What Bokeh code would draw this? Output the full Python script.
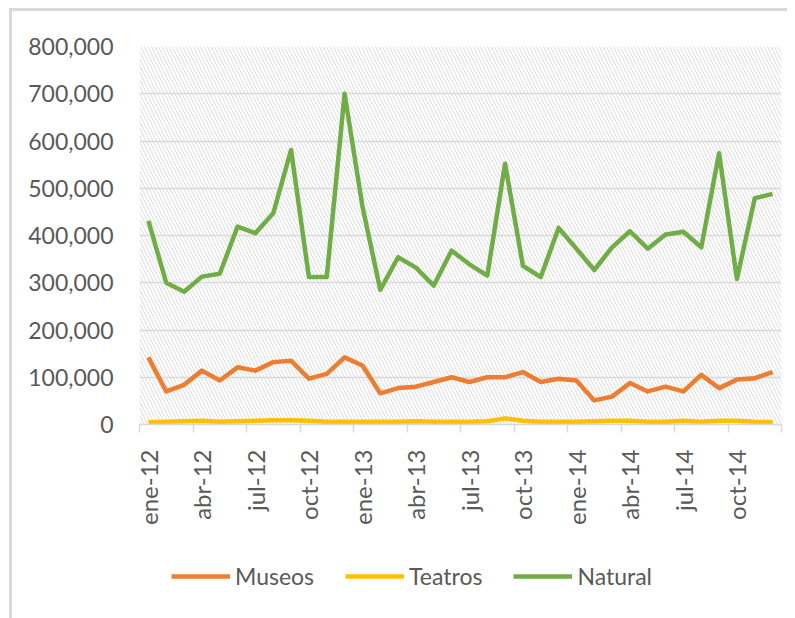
from math import pi
from bokeh.plotting import figure
from bokeh.layouts import column
from bokeh.models import (Range1d, FixedTicker, NumeralTickFormatter, BoxAnnotation,
                          Legend, LegendItem, ColumnDataSource)
from bokeh.embed import file_html
from bokeh.resources import INLINE

months = ["ene", "feb", "mar", "abr", "may", "jun", "jul", "ago", "sep", "oct", "nov", "dic"]
years = ["12", "13", "14"]
month_labels = [f"{m}-{y}" for y in years for m in months]

museos = [142000, 70000, 84000, 114000, 93000, 121000, 114000, 132000, 135000, 97000, 107000, 142000,
          125000, 66000, 77000, 80000, 90000, 100000, 90000, 100000, 100000, 111000, 90000, 97000,
          93000, 51000, 59000, 88000, 70000, 80000, 70000, 105000, 77000, 95000, 98000, 111000]
teatros = [5000, 6000, 7000, 8000, 6000, 7000, 8000, 9000, 9000, 8000, 6000, 6000,
           6000, 6000, 6000, 7000, 6000, 6000, 6000, 7000, 13000, 8000, 6000, 6000,
           6000, 7000, 8000, 8000, 6000, 6000, 8000, 6000, 8000, 8000, 6000, 5000]
natural = [431000, 300000, 281000, 313000, 319000, 419000, 405000, 447000, 581000, 312000, 312000, 700000,
           462000, 285000, 354000, 332000, 294000, 368000, 339000, 315000, 552000, 336000, 312000, 416000,
           372000, 327000, 375000, 409000, 372000, 402000, 408000, 375000, 574000, 308000, 479000, 488000]
series_names = ["Museos", "Teatros", "Natural"]
series_colors = ["#ED7D31", "#FFC000", "#70AD47"]

idx = list(range(len(month_labels)))
src = ColumnDataSource(dict(x=idx, Museos=museos, Teatros=teatros, Natural=natural))

FONT = "Lato"
GRAY = "#595959"
LIGHT = "#d9d9d9"

p = figure(width=775, height=523, output_backend="svg", toolbar_location=None,
           x_range=Range1d(-0.5, len(idx) - 0.5), y_range=Range1d(0, 800000),
           min_border_left=127, min_border_top=35, min_border_right=6, min_border_bottom=110)
p.outline_line_color = None
p.background_fill_color = "white"

# hatched plot area
hatch = BoxAnnotation(fill_color=None, line_color=None, hatch_pattern="\\",
                      hatch_color="#dcdcdc", hatch_scale=7, hatch_weight=1, level="image")
p.add_layout(hatch)

# y axis
p.yaxis.ticker = FixedTicker(ticks=list(range(0, 800001, 100000)))
p.yaxis.formatter = NumeralTickFormatter(format="0,0")
p.yaxis.axis_line_color = None
p.yaxis.major_tick_line_color = None
p.yaxis.minor_tick_line_color = None
p.yaxis.major_label_text_font = FONT
p.yaxis.major_label_text_font_size = "23px"
p.yaxis.major_label_text_color = GRAY
p.yaxis.major_label_standoff = 20
p.ygrid.grid_line_color = LIGHT
p.ygrid.grid_line_width = 1.5
p.xgrid.grid_line_color = None

# x axis
label_pos = idx[::3]
p.xaxis.ticker = FixedTicker(ticks=label_pos, minor_ticks=[i - 0.5 for i in label_pos] + [len(idx) - 0.5])
p.xaxis.major_label_overrides = {i: month_labels[i] for i in label_pos}
p.xaxis.major_label_orientation = pi / 2
p.xaxis.major_label_text_font = FONT
p.xaxis.major_label_text_font_size = "24px"
p.xaxis.major_label_text_color = GRAY
p.xaxis.major_label_standoff = 17
p.xaxis.major_tick_line_color = None
p.xaxis.minor_tick_line_color = LIGHT
p.xaxis.minor_tick_line_width = 1.5
p.xaxis.minor_tick_in = 0
p.xaxis.minor_tick_out = 8
p.xaxis.axis_line_color = LIGHT
p.xaxis.axis_line_width = 1.5

lw = 4.5
for name, color in zip(series_names, series_colors):
    p.line("x", name, source=src, line_color=color, line_width=lw, line_join="round")

# legend strip below the chart (its lines use the same data, kept outside its view)
p2 = figure(width=775, height=84, output_backend="svg", toolbar_location=None,
            x_range=Range1d(-1000, -999), y_range=Range1d(0, 1),
            x_axis_location=None, y_axis_location=None,
            min_border_left=0, min_border_right=0, min_border_top=0, min_border_bottom=0)
p2.outline_line_color = None
p2.xgrid.grid_line_color = None
p2.ygrid.grid_line_color = None
items = []
for name, color in zip(series_names, series_colors):
    r = p2.line("x", name, source=src, line_color=color, line_width=lw)
    items.append(LegendItem(label=name, renderers=[r]))
legend = Legend(items=items, orientation="horizontal", location=(32, 28),
                border_line_color=None, background_fill_alpha=0,
                label_text_font=FONT, label_text_font_size="23px", label_text_color=GRAY,
                glyph_width=59, glyph_height=20, label_standoff=5, spacing=31, padding=6,
                margin=0)
p2.add_layout(legend, "center")

layout = column(p, p2, spacing=0)
layout.styles = {"border-top": f"3px solid {LIGHT}", "border-left": f"3px solid {LIGHT}",
                 "margin-top": "8px", "margin-left": "9px"}

open("out.html", "w").write(file_html(layout, INLINE))
